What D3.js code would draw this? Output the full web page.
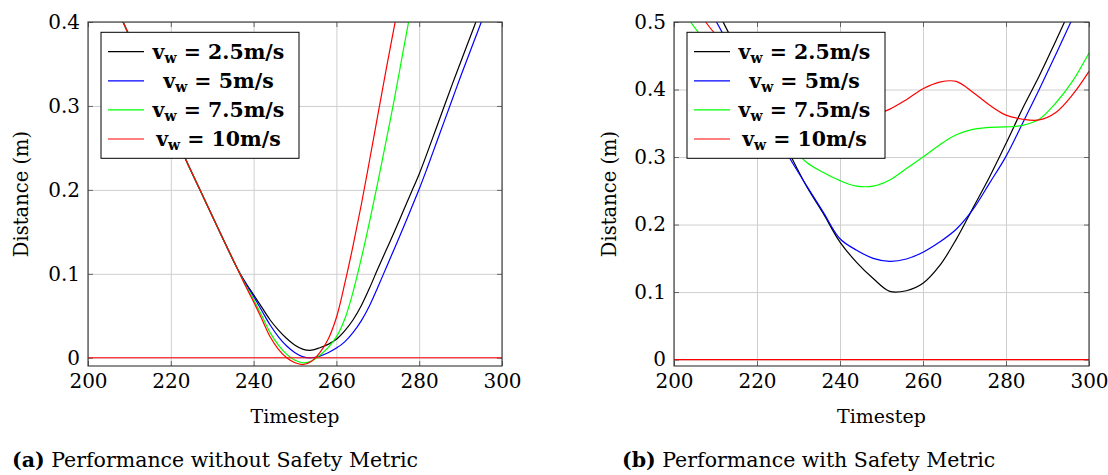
<!DOCTYPE html>
<html>
<head>
<meta charset="utf-8">
<script src="https://cdn.jsdelivr.net/npm/d3@7"></script>
<style>
  body { margin: 0; background: #fff; }
  svg text { font-family: "DejaVu Serif", serif; fill: #000; }
</style>
</head>
<body>
<svg id="chart" width="1108" height="475"></svg>
<script>
// ---- data ----
let xTicks = [200, 220, 240, 260, 280, 300];
let yTicksA = [0, 0.1, 0.2, 0.3, 0.4];
let yTicksB = [0, 0.1, 0.2, 0.3, 0.4, 0.5];
let legendLabels = ['2.5m/s', '5m/s', '7.5m/s', '10m/s'];
let seriesColors = ['#000000', '#0000ff', '#00ff00', '#ff0000'];

// (a) without safety metric
let stepsA = [200, 204, 208, 212, 216, 220, 224, 228, 232, 236,
  238, 240, 242, 244, 246, 248, 250, 252, 254, 256, 258, 260, 262, 264, 266, 268,
  270, 272, 274, 276, 278, 280, 282, 284, 286, 288, 290, 292, 294, 296, 298, 300];
let blackA = [0.492, 0.449, 0.405, 0.362, 0.319, 0.276, 0.232, 0.190, 0.148, 0.107,
  0.090, 0.075, 0.060, 0.045, 0.033, 0.023, 0.015, 0.010, 0.009, 0.012, 0.016, 0.022, 0.032, 0.045, 0.062, 0.083,
  0.106, 0.128, 0.150, 0.173, 0.196, 0.219, 0.245, 0.272, 0.299, 0.326, 0.352, 0.378, 0.404, 0.430, 0.456, 0.482];
let blueA = [0.492, 0.449, 0.405, 0.362, 0.319, 0.276, 0.232, 0.190, 0.148, 0.107,
  0.089, 0.073, 0.056, 0.039, 0.025, 0.014, 0.006, 0.001, 0.000, 0.002, 0.006, 0.0115, 0.019, 0.030, 0.044, 0.062,
  0.084, 0.107, 0.130, 0.153, 0.177, 0.201, 0.227, 0.254, 0.281, 0.308, 0.335, 0.361, 0.387, 0.413, 0.439, 0.465];
let greenA = [0.492, 0.449, 0.405, 0.362, 0.319, 0.276, 0.232, 0.190, 0.148, 0.107,
  0.087, 0.0695, 0.050, 0.030, 0.015, 0.004, -0.003, -0.006, -0.004, 0.003, 0.012, 0.025, 0.046, 0.078, 0.118, 0.162,
  0.209, 0.258, 0.308, 0.362, 0.415, 0.468, 0.52, 0.57, 0.62, 0.67, 0.72, 0.77, 0.82, 0.87, 0.92, 0.97];
let redA = [0.492, 0.449, 0.405, 0.362, 0.319, 0.276, 0.232, 0.190, 0.148, 0.107,
  0.086, 0.0667, 0.046, 0.025, 0.010, 0.000, -0.006, -0.008, -0.004, 0.006, 0.022, 0.048, 0.088, 0.133, 0.182, 0.235,
  0.289, 0.343, 0.395, 0.447, 0.50, 0.55, 0.60, 0.65, 0.70, 0.75, 0.80, 0.85, 0.90, 0.95, 1.00, 1.05];

// (b) with safety metric
let stepsB = [200, 204, 208, 212, 216, 220, 224, 228, 232, 236, 240, 244, 248,
  252, 256, 260, 264, 268, 272, 276, 280, 284, 288, 292, 296, 300];
let blackB = [0.640, 0.593, 0.545, 0.498, 0.450, 0.400, 0.350, 0.303, 0.256, 0.216, 0.174, 0.144, 0.120,
  0.101, 0.102, 0.113, 0.139, 0.178, 0.224, 0.270, 0.320, 0.372, 0.420, 0.472, 0.525, 0.575];
let blueB = [0.615, 0.570, 0.525, 0.480, 0.432, 0.386, 0.340, 0.297, 0.257, 0.218, 0.179, 0.162, 0.150,
  0.1455, 0.149, 0.159, 0.174, 0.193, 0.222, 0.261, 0.301, 0.350, 0.400, 0.452, 0.505, 0.560];
let greenB = [0.540, 0.500, 0.468, 0.438, 0.408, 0.378, 0.348, 0.318, 0.292, 0.277, 0.265, 0.257, 0.257,
  0.266, 0.283, 0.300, 0.318, 0.333, 0.341, 0.344, 0.3446, 0.347, 0.356, 0.380, 0.412, 0.454];
let redB = [0.580, 0.540, 0.497, 0.468, 0.440, 0.415, 0.395, 0.378, 0.366, 0.358, 0.355, 0.356, 0.362,
  0.371, 0.385, 0.401, 0.411, 0.412, 0.396, 0.377, 0.362, 0.356, 0.355, 0.366, 0.392, 0.427];

// red zero line drawn in both plots
let limitSteps = [200, 300];
let limitValues = [0, 0];

// ---- layout ----
let panels = [
  { left: 88, top: 22, width: 414, height: 344, yMin: -0.0098, yMax: 0.4, yTicks: yTicksA,
    steps: stepsA, series: [blackA, blueA, greenA, redA],
    ylabelX: 28, capX: 12, capTag: '(a)', capText: ' Performance without Safety Metric' },
  { left: 674, top: 22, width: 415, height: 344, yMin: -0.0095, yMax: 0.5, yTicks: yTicksB,
    steps: stepsB, series: [blackB, blueB, greenB, redB],
    ylabelX: 616, capX: 622, capTag: '(b)', capText: ' Performance with Safety Metric' }
];

let svg = d3.select('#chart');

// legend entry text: bold v, bold subscript w, then " = value"
function legendText(sel, lab, size) {
  sel.attr('font-weight', 'bold').attr('font-size', size);
  sel.append('tspan').text('v');
  sel.append('tspan').attr('font-size', size * 0.68).attr('dy', size * 0.21).text('w');
  sel.append('tspan').attr('dy', -size * 0.21).text(' = ' + lab);
}

// font size that makes the widest entry ~139px wide like the original
let probe = svg.append('text');
legendText(probe, legendLabels[0], 19);
let legendSize = Math.min(20.5, 19 * 139 / probe.node().getBBox().width);
probe.remove();

panels.forEach(function(p, pi) {
  let g = svg.append('g').attr('transform', 'translate(' + p.left + ',' + p.top + ')');

  let x = d3.scaleLinear().domain([200, 300]).range([0, p.width]);
  let y = d3.scaleLinear().domain([p.yMin, p.yMax]).range([p.height, 0]);

  // grid
  g.append('g')
    .attr('transform', 'translate(0,' + p.height + ')')
    .call(d3.axisBottom(x).tickValues(xTicks).tickSize(-p.height).tickFormat(''))
    .call(s => s.select('.domain').remove())
    .selectAll('line').attr('stroke', '#cfcfcf').attr('stroke-width', 1);
  g.append('g')
    .call(d3.axisLeft(y).tickValues(p.yTicks).tickSize(-p.width).tickFormat(''))
    .call(s => s.select('.domain').remove())
    .selectAll('line').attr('stroke', '#cfcfcf').attr('stroke-width', 1);

  // inward tick marks on all four sides
  let tl = 5;
  let inTicks = [
    { axis: d3.axisBottom(x).tickValues(xTicks), t: 'translate(0,' + p.height + ')' },
    { axis: d3.axisTop(x).tickValues(xTicks), t: 'translate(0,0)' },
    { axis: d3.axisLeft(y).tickValues(p.yTicks), t: 'translate(0,0)' },
    { axis: d3.axisRight(y).tickValues(p.yTicks), t: 'translate(' + p.width + ',0)' }
  ];
  inTicks.forEach(function(a) {
    g.append('g').attr('transform', a.t)
      .call(a.axis.tickSize(-tl).tickFormat(''))
      .call(s => s.select('.domain').remove())
      .selectAll('line').attr('stroke', '#666').attr('stroke-width', 1);
  });

  // clip
  let clipId = 'clip' + pi;
  g.append('clipPath').attr('id', clipId)
    .append('rect').attr('width', p.width).attr('height', p.height);
  let plot = g.append('g').attr('clip-path', 'url(#' + clipId + ')');

  let line = d3.line()
    .x(function(d) { return x(d[0]); })
    .y(function(d) { return y(d[1]); })
    .curve(d3.curveCatmullRom.alpha(0.5));

  p.series.forEach(function(vals, i) {
    plot.append('path')
      .datum(p.steps.map(function(t, k) { return [t, vals[k]]; }))
      .attr('fill', 'none')
      .attr('stroke', seriesColors[i])
      .attr('stroke-width', 1.2)
      .attr('d', line);
  });

  plot.append('path')
    .datum(limitSteps.map(function(t, k) { return [t, limitValues[k]]; }))
    .attr('fill', 'none')
    .attr('stroke', '#ff0000')
    .attr('stroke-width', 1.2)
    .attr('d', d3.line().x(d => x(d[0])).y(d => y(d[1])));

  // frame
  g.append('rect').attr('width', p.width).attr('height', p.height)
    .attr('fill', 'none').attr('stroke', '#333').attr('stroke-width', 1.1);

  // tick labels
  let xl = g.append('g')
    .attr('transform', 'translate(0,' + p.height + ')')
    .call(d3.axisBottom(x).tickValues(xTicks).tickSize(0).tickPadding(22).tickFormat(d3.format('d')));
  xl.select('.domain').remove();
  xl.selectAll('text').attr('font-size', 20).attr('font-family', '"DejaVu Serif", serif').attr('dy', null);

  let yl = g.append('g')
    .call(d3.axisLeft(y).tickValues(p.yTicks).tickSize(0).tickPadding(8)
      .tickFormat(function(d) { return d === 0 ? '0' : d3.format('.1f')(d); }));
  yl.select('.domain').remove();
  yl.selectAll('text').attr('font-size', 20).attr('font-family', '"DejaVu Serif", serif');

  // axis titles
  g.append('text')
    .attr('x', p.width / 2).attr('y', 401)
    .attr('text-anchor', 'middle').attr('font-size', 19)
    .text('Timestep');
  svg.append('text')
    .attr('transform', 'translate(' + p.ylabelX + ',' + (p.top + p.height / 2) + ') rotate(-90)')
    .attr('text-anchor', 'middle').attr('font-size', 19.5)
    .text('Distance (m)');

  // legend
  let lg = g.append('g').attr('transform', 'translate(13,10.3)');
  lg.append('rect').attr('width', 198).attr('height', 126)
    .attr('fill', '#fff').attr('stroke', '#000').attr('stroke-width', 1);
  legendLabels.forEach(function(lab, i) {
    let cy = 19.4 + i * 29.1;
    lg.append('line')
      .attr('x1', 7).attr('x2', 43).attr('y1', cy).attr('y2', cy)
      .attr('stroke', seriesColors[i]).attr('stroke-width', 1.2);
    let t = lg.append('text').attr('x', 0).attr('y', cy + 7);
    legendText(t, lab, legendSize);
    // centre the entry on the space right of the sample line
    let w = t.node().getBBox().width;
    t.attr('x', 118 - w / 2);
  });

  // caption
  let cap = svg.append('text').attr('x', p.capX).attr('y', 467).attr('font-size', 20.5);
  cap.append('tspan').attr('font-weight', 'bold').text(p.capTag);
  cap.append('tspan').text(p.capText);
});
</script>
</body>
</html>
